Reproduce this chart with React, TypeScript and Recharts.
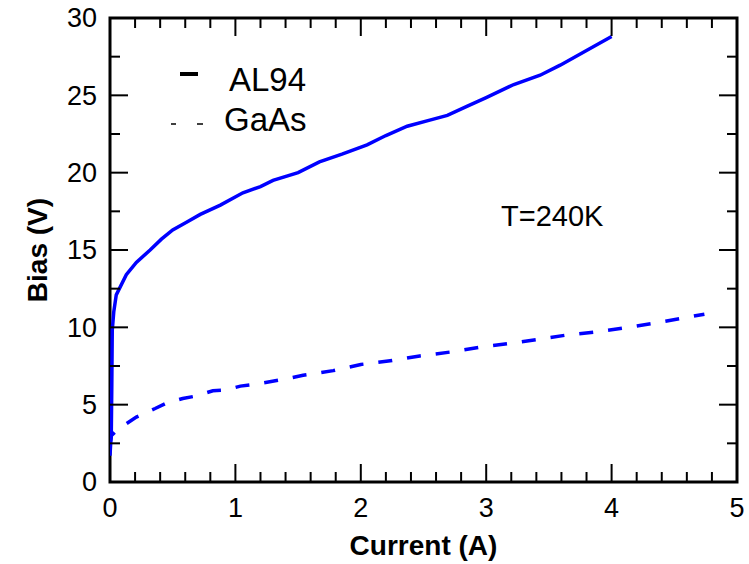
import React from 'react';
import { LineChart, Line, XAxis, YAxis, Legend, Label, ReferenceArea } from 'recharts';

const al94Current = [0, 0.006, 0.01, 0.014, 0.018, 0.03, 0.05, 0.13, 0.21, 0.32, 0.41, 0.5, 0.61, 0.72, 0.88, 1.06, 1.2, 1.3, 1.5, 1.67, 1.85, 2.05, 2.2, 2.37, 2.55, 2.69, 2.85, 3.0, 3.22, 3.43, 3.59, 3.8, 4.0];
const al94Bias = [1.7, 2.6, 2.9, 6.0, 9.8, 11.0, 12.1, 13.4, 14.2, 15.0, 15.7, 16.3, 16.8, 17.3, 17.9, 18.7, 19.1, 19.5, 20.0, 20.7, 21.2, 21.8, 22.4, 23.0, 23.4, 23.7, 24.3, 24.85, 25.7, 26.3, 26.95, 27.9, 28.8];

const gaasCurrent = [0, 0.01, 0.05, 0.1, 0.21, 0.36, 0.45, 0.58, 0.68, 0.82, 0.92, 1.04, 1.14, 1.36, 1.54, 1.78, 2.0, 2.25, 2.47, 2.71, 2.94, 3.18, 3.4, 3.64, 3.87, 4.11, 4.33, 4.57, 4.74];
const gaasBias = [2.4, 3.0, 3.3, 3.6, 4.2, 4.75, 5.1, 5.4, 5.55, 5.9, 5.95, 6.2, 6.3, 6.6, 6.9, 7.2, 7.6, 7.85, 8.15, 8.4, 8.7, 8.95, 9.2, 9.5, 9.7, 9.97, 10.25, 10.6, 10.85];

const xTicks = [0, 0.2, 0.4, 0.6, 0.8, 1, 1.2, 1.4, 1.6, 1.8, 2, 2.2, 2.4, 2.6, 2.8, 3, 3.2, 3.4, 3.6, 3.8, 4, 4.2, 4.4, 4.6, 4.8, 5];
const yTicks = [0, 2.5, 5, 7.5, 10, 12.5, 15, 17.5, 20, 22.5, 25, 27.5, 30];

const seriesNames = ['AL94', 'GaAs'];
const annotation = 'T=240K';
const xTitle = 'Current (A)';
const yTitle = 'Bias (V)';

const al94Data = al94Current.map((c, i) => ({ current: c, bias: al94Bias[i] }));
const gaasData = gaasCurrent.map((c, i) => ({ current: c, bias: gaasBias[i] }));

const FONT = '"Liberation Sans", Arial, Helvetica, sans-serif';
const MAJOR = 18;
const MINOR = 10;

const isMajorX = (v: number) => Math.abs(v - Math.round(v)) < 1e-6;
const isMajorY = (v: number) => Math.abs(v / 5 - Math.round(v / 5)) < 1e-6;

const BottomTick = (props: any) => {
  const { x, y, payload } = props;
  const major = isMajorX(payload.value);
  return (
    <g>
      <line x1={x} x2={x} y1={y} y2={y - (major ? MAJOR : MINOR)} stroke="#000" strokeWidth={2} />
      {major && (
        <text x={x} y={y + 26} dy="0.35em" textAnchor="middle" fontSize={27} fontFamily={FONT} fill="#000">
          {payload.value}
        </text>
      )}
    </g>
  );
};

const TopTick = (props: any) => {
  const { x, y, payload } = props;
  const major = isMajorX(payload.value);
  return <line x1={x} x2={x} y1={y} y2={y + (major ? MAJOR : MINOR)} stroke="#000" strokeWidth={2} />;
};

const LeftTick = (props: any) => {
  const { x, y, payload } = props;
  const major = isMajorY(payload.value);
  return (
    <g>
      <line x1={x} x2={x + (major ? MAJOR : MINOR)} y1={y} y2={y} stroke="#000" strokeWidth={2} />
      {major && (
        <text x={x - 13} y={y} dy="0.35em" textAnchor="end" fontSize={27} fontFamily={FONT} fill="#000">
          {payload.value}
        </text>
      )}
    </g>
  );
};

const RightTick = (props: any) => {
  const { x, y, payload } = props;
  const major = isMajorY(payload.value);
  return <line x1={x} x2={x - (major ? MAJOR : MINOR)} y1={y} y2={y} stroke="#000" strokeWidth={2} />;
};

const Overlay = () => (
  <svg width={749} height={564} style={{ position: 'absolute', left: 0, top: 0, pointerEvents: 'none' }}>
    <line x1={180} x2={198} y1={74} y2={74} stroke="#000" strokeWidth={4} />
    <text x={229} y={91} fontSize={33} fontFamily={FONT} fill="#000">{seriesNames[0]}</text>
    <line x1={171} x2={176} y1={124} y2={124} stroke="#000" strokeWidth={1.5} />
    <line x1={197} x2={203} y1={124} y2={124} stroke="#000" strokeWidth={1.5} />
    <text x={224} y={131} fontSize={33} fontFamily={FONT} fill="#000">{seriesNames[1]}</text>
    <text x={501} y={226} fontSize={29} fontFamily={FONT} fill="#000">{annotation}</text>
  </svg>
);

export default function App() {
  return (
    <div style={{ position: 'absolute', left: 0, top: 0, background: '#fff' }}>
      <LineChart width={749} height={564} margin={{ top: 17, right: 11, bottom: 0, left: 0 }}>
        <XAxis
          xAxisId="bottom"
          dataKey="current"
          type="number"
          domain={[0, 5]}
          allowDataOverflow
          ticks={xTicks}
          interval={0}
          orientation="bottom"
          height={82}
          tickSize={0}
          tickMargin={0}
          tickLine={false}
          axisLine={false}
          tick={<BottomTick />}
        >
          <Label value={xTitle} position="center" dy={22} fontSize={28} fontWeight="bold" fontFamily={FONT} fill="#000" />
        </XAxis>
        <XAxis
          xAxisId="top"
          dataKey="current"
          type="number"
          domain={[0, 5]}
          allowDataOverflow
          ticks={xTicks}
          interval={0}
          orientation="top"
          height={1}
          tickSize={0}
          tickMargin={0}
          tickLine={false}
          axisLine={false}
          tick={<TopTick />}
        />
        <YAxis
          yAxisId="left"
          dataKey="bias"
          type="number"
          domain={[0, 30]}
          allowDataOverflow
          ticks={yTicks}
          interval={0}
          orientation="left"
          width={110}
          tickSize={0}
          tickMargin={0}
          tickLine={false}
          axisLine={false}
          tick={<LeftTick />}
        >
          <Label value={yTitle} position="center" angle={-90} dx={-18} fontSize={28} fontWeight="bold" fontFamily={FONT} fill="#000" />
        </YAxis>
        <YAxis
          yAxisId="right"
          dataKey="bias"
          type="number"
          domain={[0, 30]}
          allowDataOverflow
          ticks={yTicks}
          interval={0}
          orientation="right"
          width={1}
          tickSize={0}
          tickMargin={0}
          tickLine={false}
          axisLine={false}
          tick={<RightTick />}
        />
        <ReferenceArea
          xAxisId="bottom"
          yAxisId="left"
          x1={0}
          x2={5}
          y1={0}
          y2={30}
          fill="none"
          fillOpacity={0}
          stroke="#000"
          strokeWidth={3}
          strokeOpacity={1}
          ifOverflow="visible"
        />
        <Line
          xAxisId="top"
          yAxisId="right"
          data={gaasData}
          dataKey="bias"
          type="linear"
          stroke="none"
          dot={false}
          legendType="none"
          isAnimationActive={false}
        />
        <Line
          xAxisId="bottom"
          yAxisId="left"
          data={al94Data}
          dataKey="bias"
          name={seriesNames[0]}
          type="linear"
          stroke="#0000ff"
          strokeWidth={3.5}
          dot={false}
          isAnimationActive={false}
        />
        <Line
          xAxisId="bottom"
          yAxisId="left"
          data={gaasData}
          dataKey="bias"
          name={seriesNames[1]}
          type="linear"
          stroke="#0000ff"
          strokeWidth={3.5}
          strokeDasharray="14 15"
          dot={false}
          isAnimationActive={false}
        />
        <Legend
          layout="horizontal"
          verticalAlign="middle"
          align="center"
          wrapperStyle={{ left: 0, top: 0, width: 749, height: 564, pointerEvents: 'none' }}
          content={<Overlay />}
        />
      </LineChart>
    </div>
  );
}
